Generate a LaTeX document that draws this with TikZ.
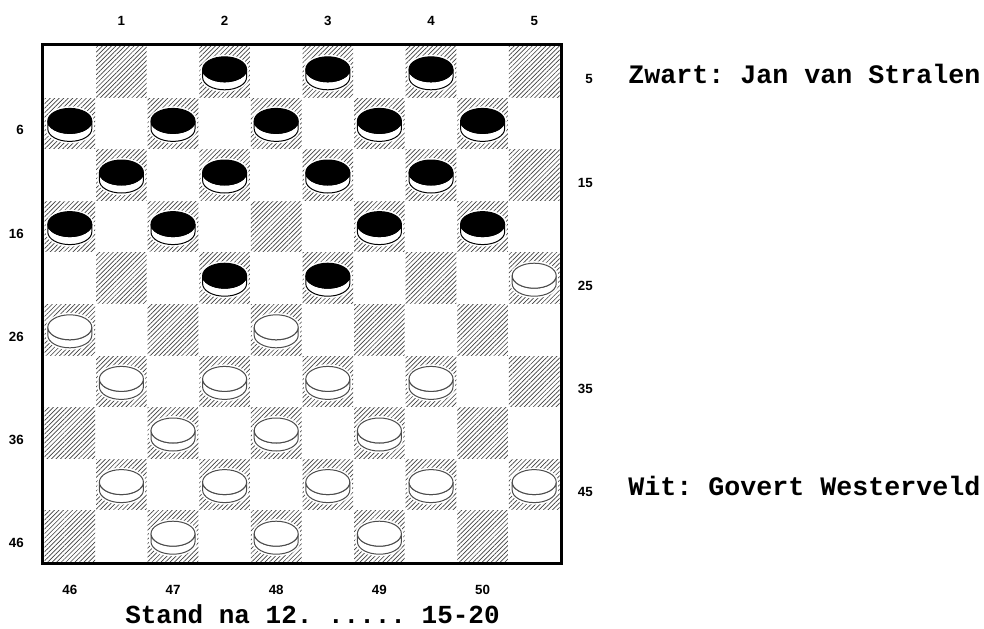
\documentclass[tikz,border=0pt]{standalone}
\usepackage{fontspec}
\usetikzlibrary{patterns.meta}
\newfontfamily\labelfont{Liberation Sans}
\newfontfamily\namefont{Liberation Mono}
\frenchspacing
\tikzset{
  darksq/.style={pattern={Lines[angle=45,distance=2.4pt,line width=0.5pt]}, pattern color=black!75},
  boardframe/.style={draw=black, line width=2.25pt},
  numlabel/.style={inner sep=0pt, font=\labelfont\bfseries\fontsize{10}{12}\selectfont},
  nametext/.style={inner sep=0pt, anchor=base west, font=\namefont\bfseries\fontsize{20}{24}\selectfont},
  pics/man/.style 2 args={code={
    % white ring clears the hatching round the man
    \filldraw[white, line width=3pt] (-22,2.5) arc[start angle=180,end angle=0,x radius=22,y radius=12.5]
      -- (22,-5.5) arc[start angle=0,end angle=-180,x radius=22,y radius=12.5] -- cycle;
    \filldraw[fill=white, draw=#2, line width=0.75pt] (-22,2.5) -- (-22,-5.5)
      arc[start angle=180,end angle=360,x radius=22,y radius=12.5] -- (22,2.5)
      arc[start angle=0,end angle=-180,x radius=22,y radius=12.5] -- cycle;
    \filldraw[fill=#1, draw=#2, line width=0.75pt] (0,2.5) ellipse[x radius=22,y radius=12.5];
  }}
}
\begin{document}
\begin{tikzpicture}[x=0.75pt, y=0.75pt]
\useasboundingbox[fill=white] (0,0) rectangle (984,-628);
% dark squares
\foreach \r in {1,...,10}
  \foreach \k in {1,...,5}{
    \pgfmathtruncatemacro\c{2*\k-mod(\r+1,2)}
    \fill[darksq] ({44+51.6*(\c-1)+0.5},{-46-51.6*(\r-1)-0.5}) rectangle ({44+51.6*\c-0.5},{-46-51.6*\r+0.5});
  }
\draw[boardframe] (42.5,-44.5) rectangle (561.5,-563.5);
% black men
\foreach \c/\r in {4/1,6/1,8/1, 1/2,3/2,5/2,7/2,9/2, 2/3,4/3,6/3,8/3, 1/4,3/4,7/4,9/4, 4/5,6/5}
  \pic at ({44+51.6*(\c-0.5)},{-46-51.6*(\r-0.5)}) {man={black}{black}};
% white men
\foreach \c/\r in {10/5, 1/6,5/6, 2/7,4/7,6/7,8/7, 3/8,5/8,7/8, 2/9,4/9,6/9,8/9,10/9, 3/10,5/10,7/10}
  \pic at ({44+51.6*(\c-0.5)},{-46-51.6*(\r-0.5)}) {man={white}{black!70}};
% square numbers
\foreach \n in {1,...,5}
  \node[numlabel, anchor=base] (top\n) at ({44+51.6*(2*\n-0.5)},-25) {\n};
\foreach \i/\n in {1/6,2/16,3/26,4/36,5/46}
  \node[numlabel, anchor=base east] (left\n) at (24,{-46-51.6*(2*\i-0.5)-11.5}) {\n};
\foreach \i/\n in {1/5,2/15,3/25,4/35,5/45}
  \node[numlabel, anchor=base east] (right\n) at (593,{-46-51.6*(2*\i-1.5)-12}) {\n};
\foreach \i/\n in {1/46,2/47,3/48,4/49,5/50}
  \node[numlabel, anchor=base] (bottom\n) at ({44+51.6*(2*\i-1.5)},-594) {\n};
% players and caption
\node[nametext] (zwart) at (628,-83) {Zwart: Jan van Stralen};
\node[nametext] (wit) at (628,-495) {Wit: Govert Westerveld};
\node[nametext, font=\namefont\bfseries\fontsize{19.5}{23}\selectfont] (stand) at (125,-623) {Stand na 12. ..... 15-20};
\end{tikzpicture}
\end{document}
